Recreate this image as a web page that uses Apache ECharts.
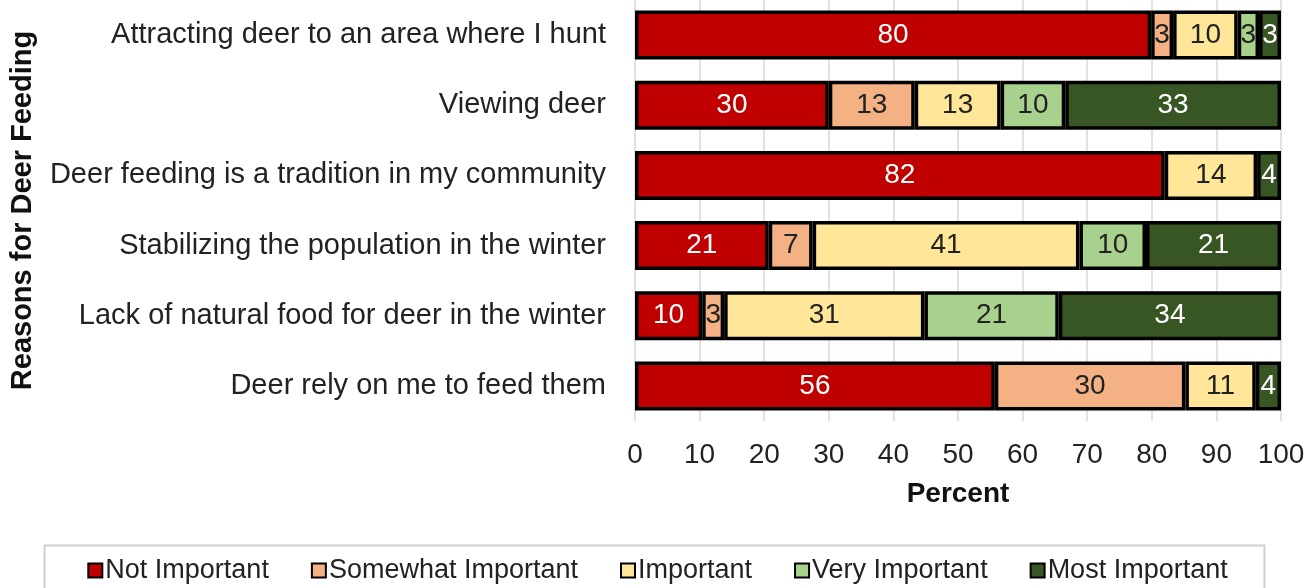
<!DOCTYPE html>
<html>
<head>
<meta charset="utf-8">
<script src="https://cdn.jsdelivr.net/npm/echarts@6/dist/echarts.min.js"></script>
<style>
  html, body { margin: 0; padding: 0; background: #fff; }
  #chart { width: 1315px; height: 588px; }
</style>
</head>
<body>
<div id="chart"></div>
<script>
// Reasons for deer feeding, share of respondents (%) by importance rating
const reasons = [
  'Attracting deer to an area where I hunt',
  'Viewing deer',
  'Deer feeding is a tradition in my community',
  'Stabilizing the population in the winter',
  'Lack of natural food for deer in the winter',
  'Deer rely on me to feed them'
];
const ratingNames = ['Not Important', 'Somewhat Important', 'Important', 'Very Important', 'Most Important'];

const notImportant      = [79.9, 30.0, 82.0, 20.7, 10.4, 55.7];
const somewhatImportant = [3.4, 13.3, null, 6.8, 3.4, 29.5];
const important         = [10.0, 13.3, 14.3, 41.3, 31.0, 10.9];
const veryImportant     = [3.3, 10.0, null, 10.3, 20.8, null];
const mostImportant     = [3.4, 33.4, 3.7, 20.9, 34.4, 3.9];

const percentTicks = [0, 10, 20, 30, 40, 50, 60, 70, 80, 90, 100];

const seriesValues = [notImportant, somewhatImportant, important, veryImportant, mostImportant];
const fills = ['#C00000', '#F4B183', '#FFE699', '#A9D18E', '#375623'];
const labelInk = ['#ffffff', '#222222', '#222222', '#222222', '#ffffff'];
const FONT = '"Liberation Sans", Arial, sans-serif';

const chart = echarts.init(document.getElementById('chart'), null, { renderer: 'canvas' });

chart.setOption({
  animation: false,
  textStyle: { fontFamily: FONT },
  grid: { left: 635, right: 34, top: 0, bottom: 167, containLabel: false },
  xAxis: {
    type: 'value',
    min: percentTicks[0],
    max: percentTicks[percentTicks.length - 1],
    interval: percentTicks[1] - percentTicks[0],
    name: 'Percent',
    nameLocation: 'middle',
    nameGap: 59,
    nameTextStyle: { fontFamily: FONT, fontSize: 28, fontWeight: 'bold', color: '#111' },
    axisLine: { show: false },
    axisTick: { show: false },
    axisLabel: { fontFamily: FONT, fontSize: 28, color: '#222', margin: 20 },
    splitLine: { show: true, lineStyle: { color: '#D9D9D9', width: 1.5 } }
  },
  yAxis: {
    type: 'category',
    data: reasons,
    inverse: true,
    name: 'Reasons for Deer Feeding',
    nameLocation: 'middle',
    nameRotate: 90,
    nameGap: 598,
    nameTextStyle: { fontFamily: FONT, fontSize: 29, fontWeight: 'bold', color: '#111' },
    axisLine: { show: false },
    axisTick: { show: false },
    axisLabel: { fontFamily: FONT, fontSize: 29, color: '#222', margin: 29 }
  },
  legend: {
    data: ratingNames,
    left: 'center',
    top: 552,
    itemWidth: 14,
    itemHeight: 14,
    itemGap: 42,
    icon: 'rect',
    textStyle: { fontFamily: FONT, fontSize: 27, color: '#222', padding: [0, 0, 0, -2] }
  },
  graphic: [{
    type: 'rect',
    left: 42,
    top: 543,
    shape: { width: 1220, height: 60 },
    style: { fill: 'none', stroke: '#D0D0D0', lineWidth: 2 },
    silent: true,
    z: -1
  }],
  series: seriesValues.map((vals, i) => ({
    name: ratingNames[i],
    type: 'bar',
    stack: 'total',
    barWidth: 49,
    data: vals,
    itemStyle: { color: fills[i], borderColor: '#000', borderWidth: 3.5 },
    label: {
      show: true,
      position: 'inside',
      fontFamily: FONT,
      fontSize: 28,
      color: labelInk[i],
      formatter: p => (p.value == null ? '' : String(Math.round(p.value)))
    }
  }))
});
</script>
</body>
</html>
